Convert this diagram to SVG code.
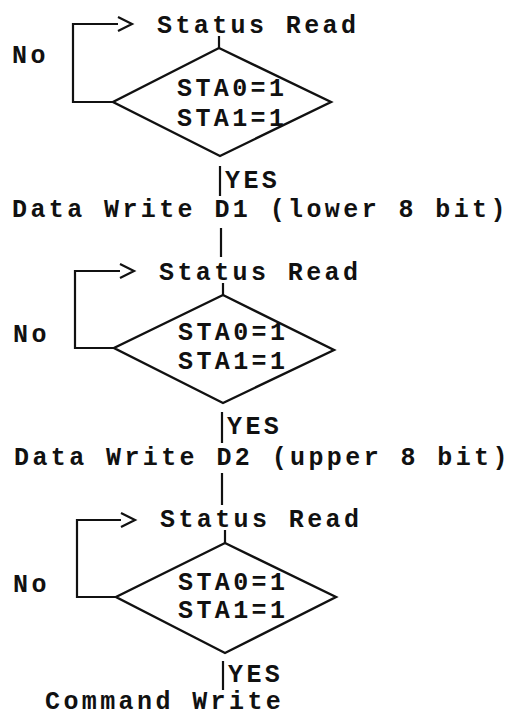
<svg xmlns="http://www.w3.org/2000/svg" width="510" height="720" viewBox="0 0 510 720">
<style>
  text { font-family: "Liberation Mono", "DejaVu Sans Mono", monospace; font-size: 25px; font-weight: bold; letter-spacing: 3.4px; fill: #111; }
  .ln { fill: none; stroke: #111; stroke-width: 2.2; stroke-linejoin: miter; }
  .dia { fill: none; stroke: #111; stroke-width: 2.4; stroke-linejoin: miter; }
</style>
<defs>
  <marker id="chev" markerUnits="userSpaceOnUse" markerWidth="18" markerHeight="18" refX="0" refY="7" orient="auto" overflow="visible">
    <path d="M0,0 L14,7 L0,14" fill="none" stroke="#111" stroke-width="2.2"/>
  </marker>
</defs>
<rect width="510" height="720" fill="#fff"/>

<g id="connectors">
  <!-- block 1 -->
  <path class="ln" d="M113,102 H73 V24 H118" marker-end="url(#chev)"/>
  <path class="ln" d="M219,36 V48"/>
  <path class="ln" d="M220,166 V196"/>
  <path class="ln" d="M221,228 V257"/>
  <!-- block 2 -->
  <path class="ln" d="M114,348 H75 V271 H120" marker-end="url(#chev)"/>
  <path class="ln" d="M223,283 V295"/>
  <path class="ln" d="M222,412 V443"/>
  <path class="ln" d="M222,473 V505"/>
  <!-- block 3 -->
  <path class="ln" d="M116,597 H77 V520 H121" marker-end="url(#chev)"/>
  <path class="ln" d="M225,530 V543"/>
  <path class="ln" d="M223,661 V690"/>
</g>

<g id="status1"><text x="157" y="33">Status Read</text></g>
<g id="decision1">
  <path class="dia" d="M219,48 L331,102 L220,156 L113,102 Z"/>
  <text x="177" y="96">STA0=1</text>
  <text x="177" y="126">STA1=1</text>
</g>
<g id="no1"><text x="12" y="63">No</text></g>
<g id="yes1"><text x="225" y="188">YES</text></g>
<g id="write1"><text x="12" y="217">Data Write D1 (lower 8 bit)</text></g>

<g id="status2"><text x="159" y="280">Status Read</text></g>
<g id="decision2">
  <path class="dia" d="M223,295 L334,350 L223,403 L114,348 Z"/>
  <text x="178" y="340">STA0=1</text>
  <text x="178" y="369">STA1=1</text>
</g>
<g id="no2"><text x="13" y="342">No</text></g>
<g id="yes2"><text x="227" y="434">YES</text></g>
<g id="write2"><text x="14" y="465">Data Write D2 (upper 8 bit)</text></g>

<g id="status3"><text x="160" y="527">Status Read</text></g>
<g id="decision3">
  <path class="dia" d="M225,543 L336,597 L225,653 L116,597 Z"/>
  <text x="178" y="590">STA0=1</text>
  <text x="178" y="618">STA1=1</text>
</g>
<g id="no3"><text x="13" y="592">No</text></g>
<g id="yes3"><text x="228" y="682">YES</text></g>
<g id="command"><text x="45" y="709">Command Write</text></g>
</svg>
